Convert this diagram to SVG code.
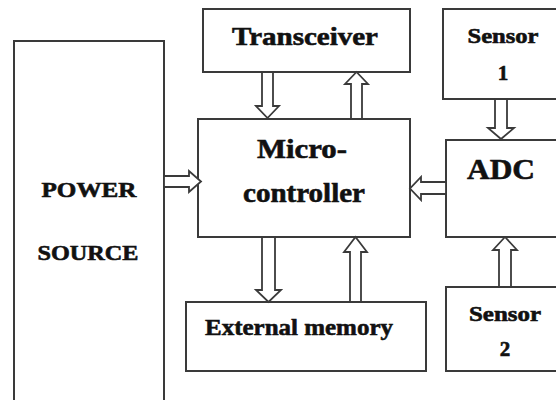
<svg xmlns="http://www.w3.org/2000/svg" width="556" height="400" viewBox="0 0 556 400">
<style>
.box{fill:#fff;stroke:#3a3a3a;stroke-width:2}
.arr{fill:#fff;stroke:#3a3a3a;stroke-width:1.8;stroke-linejoin:miter}
.t{font-family:'Liberation Serif','Times New Roman',Times,serif;font-weight:bold;fill:#111;stroke:#111;stroke-width:0.6;text-anchor:middle}
</style>
<rect width="556" height="400" fill="#fff"/>
<g id="power"><rect class="box" x="14" y="41" width="150" height="370"/>
<text class="t" x="89" y="197" font-size="22" textLength="95" lengthAdjust="spacingAndGlyphs">POWER</text>
<text class="t" x="88" y="260" font-size="22" textLength="101" lengthAdjust="spacingAndGlyphs">SOURCE</text></g>
<g id="transceiver"><rect class="box" x="203" y="9" width="207" height="63"/>
<text class="t" x="305" y="45" font-size="26" textLength="146" lengthAdjust="spacingAndGlyphs">Transceiver</text></g>
<g id="micro"><rect class="box" x="198" y="119" width="212" height="118"/>
<text class="t" x="302" y="158" font-size="28" textLength="90" lengthAdjust="spacingAndGlyphs">Micro-</text>
<text class="t" x="304" y="202" font-size="28" textLength="122" lengthAdjust="spacingAndGlyphs">controller</text></g>
<g id="sensor1"><rect class="box" x="443" y="9" width="125" height="90"/>
<text class="t" x="503" y="43" font-size="21" textLength="71" lengthAdjust="spacingAndGlyphs">Sensor</text>
<text class="t" x="503" y="80" font-size="21">1</text></g>
<g id="adc"><rect class="box" x="446" y="140" width="122" height="97"/>
<text class="t" x="501" y="179" font-size="30" textLength="68" lengthAdjust="spacingAndGlyphs">ADC</text></g>
<g id="sensor2"><rect class="box" x="446" y="287" width="122" height="84"/>
<text class="t" x="505" y="321" font-size="21" textLength="72" lengthAdjust="spacingAndGlyphs">Sensor</text>
<text class="t" x="505" y="356" font-size="21">2</text></g>
<g id="memory"><rect class="box" x="186" y="302" width="240" height="69"/>
<text class="t" x="299" y="335" font-size="24" textLength="188" lengthAdjust="spacingAndGlyphs">External memory</text></g>
<g id="connectors">
<polygon class="arr" points="262,72 273,72 273,106 279,106 267.5,118 256,106 262,106"/>
<polygon class="arr" points="351,119 362,119 362,84 368,84 356.5,72 345,84 351,84"/>
<polygon class="arr" points="164,176 189,176 189,171 201,181.5 189,192 189,187 164,187"/>
<polygon class="arr" points="446,182 421,182 421,177 410,188.5 421,200 421,194 446,194"/>
<polygon class="arr" points="495,99 507,99 507,128 514,128 501,139 488,128 495,128"/>
<polygon class="arr" points="262,237 275,237 275,290 281,290 268.5,302 256,290 262,290"/>
<polygon class="arr" points="350,302 361,302 361,252 367,252 355.5,237 344,252 350,252"/>
<polygon class="arr" points="499,287 511,287 511,250 517,250 505,237 493,250 499,250"/>
</g>
</svg>
